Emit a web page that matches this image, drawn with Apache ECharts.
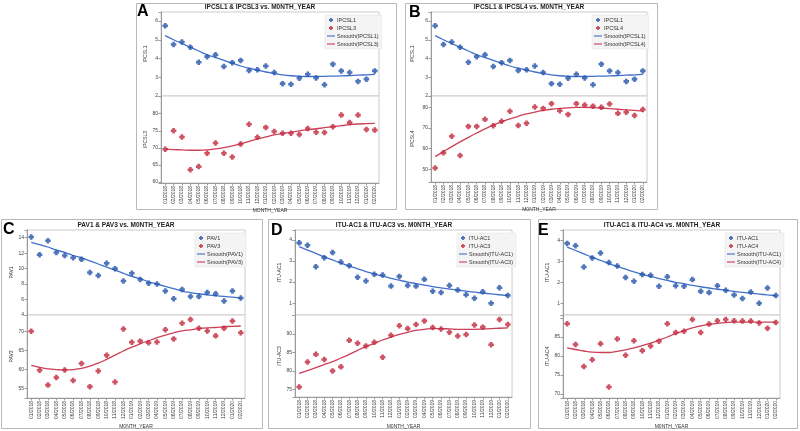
<!DOCTYPE html>
<html>
<head>
<meta charset="utf-8">
<script src="https://cdn.jsdelivr.net/npm/echarts@6/dist/echarts.min.js"></script>
<style>html,body{margin:0;padding:0;background:#fff;}#c{width:800px;height:431px;}</style>
</head>
<body>
<div id="c"></div>
<script>
const months = ['01/2018','02/2018','03/2018','04/2018','05/2018','06/2018','07/2018','08/2018','09/2018','10/2018','11/2018','12/2018','01/2019','02/2019','03/2019','04/2019','05/2019','06/2019','07/2019','08/2019','09/2019','10/2019','11/2019','12/2019','01/2020','02/2020'];

const ipcsl1 = [5.75,4.75,4.88,4.6,3.8,4.1,4.2,3.57,3.78,3.9,3.36,3.4,3.6,3.25,2.66,2.63,2.95,3.16,2.96,2.6,3.7,3.34,3.25,2.78,2.9,3.34];
const ipcsl1Smooth = [5.22,5.0,4.8,4.6,4.4,4.2,4.05,3.9,3.75,3.6,3.48,3.38,3.28,3.2,3.13,3.08,3.05,3.04,3.04,3.05,3.06,3.07,3.09,3.11,3.13,3.15];
const ipcsl3 = [69.6,75,73.2,63.6,64.5,68.4,71.4,68.4,67.3,71.1,76.9,73.1,76,74.8,74.3,74.3,73.9,75.7,74.6,74.5,76.2,79.6,77.4,79.6,75.4,75.2];
const ipcsl3Smooth = [69.6,69.5,69.4,69.3,69.3,69.4,69.7,70.1,70.6,71.2,71.9,72.6,73.2,73.8,74.2,74.6,75.0,75.3,75.6,75.9,76.2,76.5,76.8,77.0,77.1,77.2];
const ipcsl4 = [50.7,58,66,56.7,70.8,70.8,74.2,71.1,73.3,78.1,71.2,72.3,80.2,79.5,81.8,78.4,76.6,81.8,81.1,80.6,80,81.6,77.1,77.6,76.1,79];
const ipcsl4Smooth = [56.2,58.6,61.0,63.3,65.5,67.6,69.6,71.4,73.0,74.4,75.7,76.8,77.7,78.5,79.1,79.5,79.8,80.0,80.0,79.9,79.7,79.4,79.1,78.8,78.5,78.2];
const pav1 = [14.1,11.8,13.6,12.1,11.7,11.4,11.2,9.5,9.1,10.7,10.0,8.4,9.4,8.6,8.1,8.0,7.1,6.1,7.3,6.4,6.4,6.9,6.75,5.8,7.1,6.2];
const pav1Smooth = [13.4,13.1,12.8,12.4,12.1,11.7,11.4,11.0,10.6,10.2,9.8,9.4,9.0,8.7,8.3,8.0,7.7,7.4,7.1,6.9,6.75,6.6,6.5,6.4,6.3,6.2];
const pav3 = [70,59.7,55.8,57.8,59.8,57,61.5,55.4,59.5,63.7,56.6,70.6,67.1,67.4,67,67.2,70.4,68,72.1,73.1,70.8,70.1,68.8,70.8,72.7,69.6];
const pav3Smooth = [61.0,60.5,60.1,59.9,59.8,59.9,60.2,60.8,61.6,62.6,63.7,64.8,65.8,66.7,67.5,68.3,69.0,69.6,70.1,70.4,70.7,70.9,71.0,71.2,71.3,71.4];
const ituAc1 = [3.86,3.75,2.73,3.16,3.4,2.95,2.78,2.23,2.05,2.37,2.34,1.81,2.27,1.84,1.81,2.13,1.57,1.51,1.84,1.62,1.4,1.23,1.54,1.0,1.73,1.37];
const ituAc1Smooth = [3.68,3.52,3.36,3.2,3.05,2.9,2.76,2.63,2.5,2.39,2.28,2.18,2.09,2.0,1.93,1.86,1.79,1.73,1.67,1.62,1.57,1.52,1.48,1.44,1.4,1.36];
const ituAc3 = [75.6,82.4,84.5,83.1,80,81.1,88.3,87.5,86.8,87.8,83.7,89.7,92.3,91.5,92.6,93.6,91.8,91.4,90.5,89.5,89.9,92.5,91.9,87.1,94.0,92.6];
const ituAc3Smooth = [79.3,80.1,80.9,81.7,82.5,83.5,84.5,85.6,86.6,87.5,88.4,89.2,89.9,90.5,91.0,91.3,91.5,91.5,91.4,91.3,91.3,91.3,91.4,91.5,91.6,91.7];
const ituAc4 = [88.5,83,77.2,79,83.2,71.8,84.5,80.2,84,81.4,82.6,83.9,88.5,86.2,86.5,89.6,86.2,88.4,89.3,89.6,89.3,89.2,89.2,88.7,87.3,88.8];
const ituAc4Smooth = [82.1,81.7,81.3,81.0,80.9,80.9,81.2,81.6,82.1,82.7,83.4,84.2,85.0,85.9,86.7,87.4,87.9,88.3,88.6,88.8,88.9,88.9,88.9,88.9,88.9,88.9];

// tick labels shown on each y axis
const ipcsl1Ticks = [2,3,4,5,6];
const ipcsl3Ticks = [60,65,70,75,80];
const ipcsl4Ticks = [50,60,70,80];
const pav1Ticks = [4,6,8,10,12,14];
const pav3Ticks = [55,60,65,70];
const ituAc1Ticks = [1,2,3,4];
const ituAc3Ticks = [75,80,85,90];
const ituAc4Ticks = [70,75,80,85];

const BLUE_PT = '#2253a8', RED_PT = '#c0283c';
const BLUE_LN = '#4170cc', RED_LN = '#cc4058';
const PLUS = 'path://M1.6,0H4.4V1.6H6V4.4H4.4V6H1.6V4.4H0V1.6H1.6Z';
const LINE_ICON = 'path://M0,0H10V1.4H0Z';
const FONT = 'Liberation Sans, Arial, sans-serif';

const panels = [
  {letter:'A', title:'IPCSL1 & IPCSL3 vs. M0NTH_YEAR', xName:'MONTH_YEAR',
   box:[136,3,260,206], letterPos:[137,4], titlePos:[260,7],
   left:161, width:218, top:12, mid:96, bottom:183, yNameGap:13, xNameGap:22, legendPos:[325,15],
   topName:'IPCSL1', topData:ipcsl1, topSmooth:ipcsl1Smooth, topRange:[2,6.48], topStep:1, topTicks:ipcsl1Ticks,
   botName:'IPCSL3', botData:ipcsl3, botSmooth:ipcsl3Smooth, botRange:[59.7,85.2], botStep:5, botTicks:ipcsl3Ticks},
  {letter:'B', title:'IPCSL1 & IPCSL4 vs. M0NTH_YEAR', xName:'M0NTH_YEAR',
   box:[405,3,252,206], letterPos:[409,5], titlePos:[529,7],
   left:431, width:216, top:12, mid:96, bottom:182, yNameGap:16, xNameGap:23, legendPos:[592,15],
   topName:'IPCSL1', topData:ipcsl1, topSmooth:ipcsl1Smooth, topRange:[2,6.48], topStep:1, topTicks:ipcsl1Ticks,
   botName:'IPCSL4', botData:ipcsl4, botSmooth:ipcsl4Smooth, botRange:[43.9,85.5], botStep:10, botTicks:ipcsl4Ticks},
  {letter:'C', title:'PAV1 & PAV3 vs. M0NTH_YEAR', xName:'M0NTH_YEAR',
   box:[1,219,261,209], letterPos:[3,222], titlePos:[126,225],
   left:27, width:218, top:230, mid:315, bottom:398, yNameGap:12, xNameGap:26, legendPos:[195,233],
   topName:'PAV1', topData:pav1, topSmooth:pav1Smooth, topRange:[4,15.0], topStep:2, topTicks:pav1Ticks,
   botName:'PAV3', botData:pav3, botSmooth:pav3Smooth, botRange:[52.4,74.3], botStep:5, botTicks:pav3Ticks},
  {letter:'D', title:'ITU-AC1 & ITU-AC3 vs. M0NTH_YEAR', xName:'M0NTH_YEAR',
   box:[268,219,262,209], letterPos:[271,223], titlePos:[394,225],
   left:295, width:217, top:230, mid:315, bottom:397, yNameGap:13, xNameGap:27, legendPos:[457,233],
   topName:'ITU-AC1', topData:ituAc1, topSmooth:ituAc1Smooth, topRange:[0.44,4.47], topStep:1, topTicks:ituAc1Ticks,
   botName:'ITU-AC3', botData:ituAc3, botSmooth:ituAc3Smooth, botRange:[72.9,95.2], botStep:5, botTicks:ituAc3Ticks},
  {letter:'E', title:'ITU-AC1 & ITU-AC4 vs. M0NTH_YEAR', xName:'M0NTH_YEAR',
   box:[538,219,259,209], letterPos:[538,223], titlePos:[662,225],
   left:563, width:217, top:230, mid:315, bottom:398, yNameGap:13, xNameGap:26, legendPos:[725,233],
   topName:'ITU-AC1', topData:ituAc1, topSmooth:ituAc1Smooth, topRange:[0.44,4.5], topStep:1, topTicks:ituAc1Ticks,
   botName:'ITU-AC4', botData:ituAc4, botSmooth:ituAc4Smooth, botRange:[68.9,90.8], botStep:5, botTicks:ituAc4Ticks}
];

function tickFormatter(ticks) {
  return function (v) {
    for (let i = 0; i < ticks.length; i++) {
      if (Math.abs(v - ticks[i]) < 1e-6) return String(ticks[i]);
    }
    return '';
  };
}

const grids = [], xAxes = [], yAxes = [], series = [], legends = [], graphics = [];

function yAxisDef(gi, range, step, ticks, name, gap) {
  return {
    type:'value', gridIndex:gi, min:range[0], max:range[1],
    minInterval:step, maxInterval:step, splitNumber:5, scale:true,
    axisLine:{show:true, lineStyle:{color:'#9a9a9a', width:1}},
    axisTick:{show:true, length:2.5, lineStyle:{color:'#9a9a9a'}},
    axisLabel:{fontSize:5, color:'#444', margin:3, formatter:tickFormatter(ticks), fontFamily:FONT},
    splitLine:{show:false},
    name:name, nameLocation:'middle', nameGap:gap,
    nameTextStyle:{fontSize:5, color:'#333', fontFamily:FONT}
  };
}

panels.forEach(function (p) {
  const gTop = grids.length;
  grids.push({left:p.left, top:p.top, width:p.width, height:p.mid - p.top, show:true,
    borderColor:'#cccccc', borderWidth:1, backgroundColor:'#fff', containLabel:false});
  const gBot = grids.length;
  grids.push({left:p.left, top:p.mid, width:p.width, height:p.bottom - p.mid, show:true,
    borderColor:'#cccccc', borderWidth:1, backgroundColor:'#fff', containLabel:false});

  const xTop = xAxes.length;
  xAxes.push({type:'category', gridIndex:gTop, data:months, boundaryGap:true, show:false});
  const xBot = xAxes.length;
  xAxes.push({type:'category', gridIndex:gBot, data:months, boundaryGap:true,
    axisLine:{show:true, lineStyle:{color:'#9a9a9a'}},
    axisTick:{show:true, alignWithLabel:true, length:2.5, lineStyle:{color:'#9a9a9a'}},
    axisLabel:{rotate:90, interval:0, fontSize:5, color:'#444', margin:3, fontFamily:FONT},
    name:p.xName, nameLocation:'middle', nameGap:p.xNameGap,
    nameTextStyle:{fontSize:5, color:'#333', fontFamily:FONT}});

  const yTop = yAxes.length;
  yAxes.push(yAxisDef(gTop, p.topRange, p.topStep, p.topTicks, p.topName, p.yNameGap));
  const yBot = yAxes.length;
  yAxes.push(yAxisDef(gBot, p.botRange, p.botStep, p.botTicks, p.botName, p.yNameGap));

  series.push({type:'scatter', name:p.topName, xAxisIndex:xTop, yAxisIndex:yTop, data:p.topData,
    symbol:PLUS, symbolSize:5.5, itemStyle:{color:BLUE_PT}, z:3});
  series.push({type:'scatter', name:p.botName, xAxisIndex:xBot, yAxisIndex:yBot, data:p.botData,
    symbol:PLUS, symbolSize:5.5, itemStyle:{color:RED_PT}, z:3});
  series.push({type:'line', name:'Smooth(' + p.topName + ')', xAxisIndex:xTop, yAxisIndex:yTop, data:p.topSmooth,
    smooth:true, symbol:'none', showSymbol:false, lineStyle:{color:BLUE_LN, width:1.3}, itemStyle:{color:BLUE_LN}, z:2});
  series.push({type:'line', name:'Smooth(' + p.botName + ')', xAxisIndex:xBot, yAxisIndex:yBot, data:p.botSmooth,
    smooth:true, symbol:'none', showSymbol:false, lineStyle:{color:RED_LN, width:1.3}, itemStyle:{color:RED_LN}, z:2});

  legends.push({
    left:p.legendPos[0], top:p.legendPos[1], orient:'vertical',
    data:[
      {name:p.topName, icon:PLUS},
      {name:p.botName, icon:PLUS},
      {name:'Smooth(' + p.topName + ')', icon:LINE_ICON},
      {name:'Smooth(' + p.botName + ')', icon:LINE_ICON}
    ],
    itemWidth:8, itemHeight:4, itemGap:2, padding:[2,3,2,2],
    backgroundColor:'#f4f4f4', borderColor:'#e2e2e2', borderWidth:0.5,
    textStyle:{fontSize:5.5, color:'#333', padding:[0,0,0,-3], fontFamily:FONT},
    selectedMode:false
  });

  graphics.push({type:'rect', shape:{x:p.box[0]+0.5, y:p.box[1]+0.5, width:p.box[2], height:p.box[3]},
    style:{fill:null, stroke:'#b8b8b8', lineWidth:1}, z:-10, silent:true});
  graphics.push({type:'text', x:p.letterPos[0], y:p.letterPos[1],
    style:{text:p.letter, fontSize:16, fontWeight:'bold', fill:'#000', fontFamily:FONT, textVerticalAlign:'top', verticalAlign:'top'}, z:10});
  graphics.push({type:'text', x:p.titlePos[0], y:p.titlePos[1],
    style:{text:p.title, fontSize:6.5, fontWeight:'bold', fill:'#222', fontFamily:FONT,
      textAlign:'center', align:'center', textVerticalAlign:'middle', verticalAlign:'middle'}, z:10});
});

const chart = echarts.init(document.getElementById('c'), null, {renderer:'canvas'});
chart.setOption({
  animation:false,
  backgroundColor:'#fff',
  textStyle:{fontFamily:FONT},
  grid:grids, xAxis:xAxes, yAxis:yAxes, series:series, legend:legends,
  graphic:{elements:graphics}
});
</script>
</body>
</html>
